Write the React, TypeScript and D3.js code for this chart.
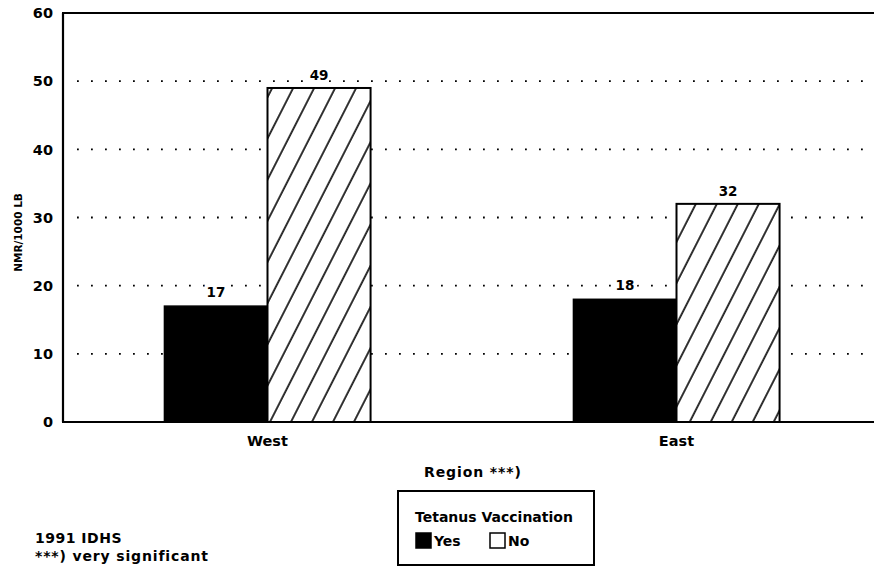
import React from "react";
import * as d3 from "d3";

const categories = ["West", "East"];
const yesValues = [17, 18];
const noValues = [49, 32];
const yTicks = [0, 10, 20, 30, 40, 50, 60];
const gridTicks = [10, 20, 30, 40, 50];
const yLabel = "NMR/1000 LB";
const xLabel = "Region ***)";
const legendTitle = "Tetanus Vaccination";
const legendItems = ["Yes", "No"];
const notes = ["1991 IDHS", "***) very significant"];

const W = 874;
const H = 567;
const FONT = "'DejaVu Sans', sans-serif";

export default function App() {
  const left = 63;
  const top = 13;
  const bottom = 422;
  const y = d3.scaleLinear().domain([0, 60]).range([bottom, top]);
  const x = d3.scaleBand<string>().domain(categories).range([left, 881]).padding(0);
  const barW = x.bandwidth() * 0.252;

  return (
    <svg
      width={W}
      height={H}
      style={{ position: "absolute", left: 0, top: 0, background: "#fff" }}
      fontFamily={FONT}
      fontWeight="bold"
    >
      <defs>
        <pattern
          id="hatch"
          patternUnits="userSpaceOnUse"
          width={18.7}
          height={18.7}
          patternTransform="rotate(27)"
        >
          <rect width={18.7} height={18.7} fill="#fff" />
          <line x1={2} y1={-1} x2={2} y2={19.7} stroke="#000" strokeWidth={1.6} />
        </pattern>
      </defs>
      <rect width={W} height={H} fill="#fff" />

      {/* gridlines */}
      {gridTicks.map((t) => (
        <line
          key={t}
          x1={left + 14}
          x2={W}
          y1={y(t)}
          y2={y(t)}
          stroke="#000"
          strokeWidth={1.8}
          strokeDasharray="1.8,12.2"
        />
      ))}

      {/* bars */}
      {categories.map((c, i) => {
        const cx = (x(c) as number) + x.bandwidth() / 2;
        return (
          <g key={c}>
            <rect
              x={cx - barW}
              y={y(yesValues[i])}
              width={barW}
              height={bottom - y(yesValues[i])}
              fill="#000"
              stroke="#000"
              strokeWidth={1.5}
            />
            <rect
              x={cx}
              y={y(noValues[i])}
              width={barW}
              height={bottom - y(noValues[i])}
              fill="url(#hatch)"
              stroke="#000"
              strokeWidth={2}
            />
            <text
              x={cx - barW / 2}
              y={y(yesValues[i]) - 9}
              textAnchor="middle"
              fontSize={13.5}
              fill="#000"
              stroke="#fff"
              strokeWidth={6}
              paintOrder="stroke"
            >
              {yesValues[i]}
            </text>
            <text
              x={cx + barW / 2}
              y={y(noValues[i]) - 8}
              textAnchor="middle"
              fontSize={13.5}
              fill="#000"
              stroke="#fff"
              strokeWidth={6}
              paintOrder="stroke"
            >
              {noValues[i]}
            </text>
            <text x={cx} y={bottom + 24} textAnchor="middle" fontSize={14.5} fill="#000">
              {c}
            </text>
          </g>
        );
      })}

      {/* frame */}
      <line x1={left} x2={left} y1={top} y2={bottom} stroke="#000" strokeWidth={2.2} />
      <line x1={left - 1} x2={W} y1={top} y2={top} stroke="#000" strokeWidth={2.2} />
      <line x1={left - 1} x2={W} y1={bottom} y2={bottom} stroke="#000" strokeWidth={2.2} />

      {/* y ticks */}
      {yTicks.map((t) => (
        <text
          key={t}
          x={53}
          y={y(t)}
          dy="0.36em"
          textAnchor="end"
          fontSize={14.5}
          fill="#000"
        >
          {t}
        </text>
      ))}
      <text
        transform={`translate(18,${(top + bottom) / 2 + 15}) rotate(-90)`}
        textAnchor="middle"
        dy="0.36em"
        fontSize={10.5}
        fill="#000"
      >
        {yLabel}
      </text>

      {/* x axis title */}
      <text x={424} y={477} fontSize={14} letterSpacing={0.9} fill="#000">
        {xLabel}
      </text>

      {/* legend */}
      <rect x={398} y={491} width={196} height={74} fill="none" stroke="#000" strokeWidth={2} />
      <text x={415} y={522} fontSize={14} fill="#000">
        {legendTitle}
      </text>
      <rect x={416} y={533} width={15} height={15} fill="#000" stroke="#000" strokeWidth={1.5} />
      <text x={434} y={546} fontSize={14} fill="#000">
        {legendItems[0]}
      </text>
      <rect x={490} y={533} width={15} height={15} fill="#fff" stroke="#000" strokeWidth={1.5} />
      <text x={508} y={546} fontSize={14} fill="#000">
        {legendItems[1]}
      </text>

      {/* notes */}
      <text x={35} y={543} fontSize={14} letterSpacing={0.5} fill="#000">
        {notes[0]}
      </text>
      <text x={35} y={561} fontSize={14} letterSpacing={0.85} fill="#000">
        {notes[1]}
      </text>
    </svg>
  );
}
